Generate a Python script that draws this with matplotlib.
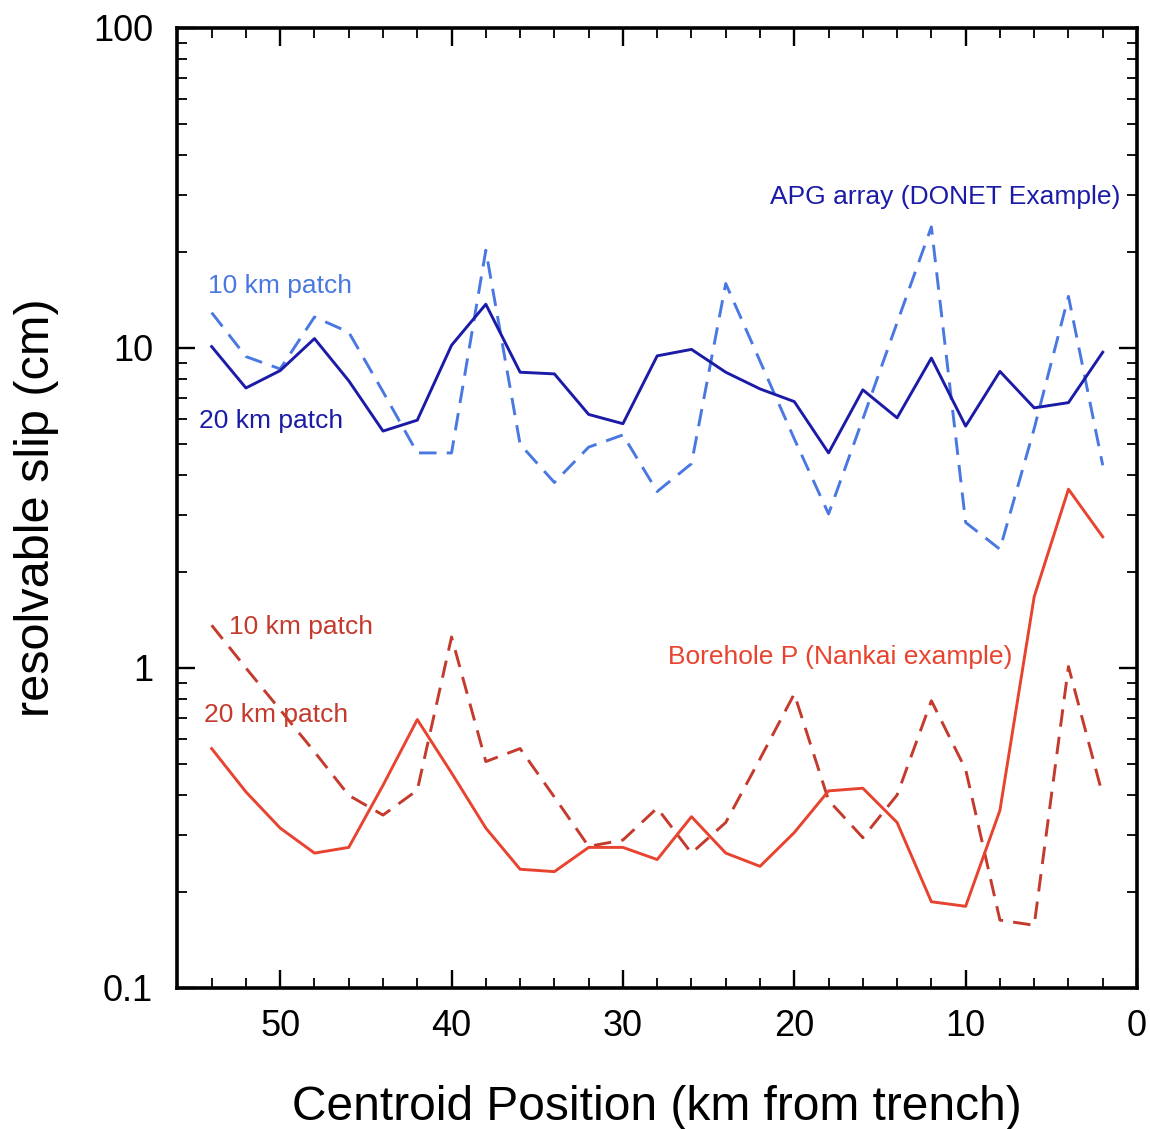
import numpy as np
import matplotlib
matplotlib.use("Agg")
import matplotlib.pyplot as plt
from matplotlib.ticker import LogLocator, FixedLocator, NullFormatter

plt.rcParams['font.family'] = ['Liberation Sans', 'DejaVu Sans']

# Centroid position (km from trench)
positions = [54, 52, 50, 48, 46, 44, 42, 40, 38, 36, 34, 32, 30, 28,
             26, 24, 22, 20, 18, 16, 14, 12, 10, 8, 6, 4, 2]

# APG array (DONET example)
apg_20km = [10.1, 7.5, 8.5, 10.7, 7.9, 5.5, 5.95, 10.2, 13.7, 8.4, 8.3, 6.2, 5.8, 9.45,
            9.9, 8.4, 7.45, 6.8, 4.7, 7.4, 6.05, 9.3, 5.7, 8.45, 6.5, 6.75, 9.7]
apg_10km = [12.9, 9.4, 8.6, 12.5, 11.2, 7.3, 4.7, 4.7, 20.2, 5.0, 3.8, 4.9, 5.35, 3.56,
            4.35, 15.9, 9.1, 5.2, 3.03, 6.0, 12.0, 23.9, 2.85, 2.35, 5.6, 14.5, 4.3]

# Borehole P (Nankai example)
bh_20km = [0.56, 0.41, 0.316, 0.264, 0.275, 0.43, 0.69, 0.47, 0.316, 0.235, 0.231, 0.275, 0.275, 0.252,
           0.343, 0.264, 0.240, 0.306, 0.413, 0.421, 0.329, 0.186, 0.180, 0.359, 1.67, 3.62, 2.57]
bh_10km = [1.36, 1.0, 0.74, 0.547, 0.40, 0.347, 0.415, 1.25, 0.51, 0.56, 0.395, 0.277, 0.29, 0.365,
           0.264, 0.329, 0.52, 0.83, 0.386, 0.295, 0.401, 0.79, 0.482, 0.163, 0.157, 1.01, 0.40]

x_ticks = [50, 40, 30, 20, 10, 0]
y_ticks = [0.1, 1, 10, 100]
y_ticklabels = ['0.1', '1', '10', '100']

c_apg20 = '#1b1ba8'
c_apg10 = '#4a78e2'
c_bh20 = '#e8432e'
c_bh10 = '#c43a2c'

fig = plt.figure(figsize=(11.5, 11.29), dpi=100)
ax = fig.add_axes([0.1535, 0.1249, 0.9887 - 0.1535, 0.9752 - 0.1249])

lw = 2.1
ax.plot(positions, apg_10km, color=c_apg10, lw=lw, dashes=(6, 3.5))
ax.plot(positions, apg_20km, color=c_apg20, lw=lw)
ax.plot(positions, bh_10km, color=c_bh10, lw=lw, dashes=(6, 3.5))
ax.plot(positions, bh_20km, color=c_bh20, lw=lw)

ax.set_yscale('log')
ax.set_ylim(0.1, 100)
ax.set_xlim(56.05, 0)

ax.xaxis.set_major_locator(FixedLocator(x_ticks))
ax.xaxis.set_minor_locator(FixedLocator(list(range(2, 56, 2))))
ax.yaxis.set_major_locator(FixedLocator(y_ticks))
ax.set_yticklabels(y_ticklabels)
ax.yaxis.set_minor_locator(LogLocator(base=10, subs=np.arange(2, 10)))
ax.yaxis.set_minor_formatter(NullFormatter())

ax.tick_params(which='both', direction='in', top=True, right=True, colors='black',
               labelsize=26)
ax.tick_params(which='major', length=13, width=1.7)
ax.tick_params(which='minor', length=7, width=1.3)
ax.tick_params(axis='x', which='major', pad=15)
ax.tick_params(axis='y', which='major', pad=17)

for s in ax.spines.values():
    s.set_linewidth(2.6)

ax.set_xlabel('Centroid Position (km from trench)', fontsize=34.5, labelpad=30)
ax.set_ylabel('resolvable slip (cm)', fontsize=35, labelpad=24)

fs = 19
ax.text(0.0328, 0.731, '10 km patch', transform=ax.transAxes, color=c_apg10, fontsize=fs, va='center', ha='left')
ax.text(0.0234, 0.5906, '20 km patch', transform=ax.transAxes, color=c_apg20, fontsize=fs, va='center', ha='left')
ax.text(0.9823, 0.824, 'APG array (DONET Example)', transform=ax.transAxes, color=c_apg20, fontsize=fs, va='center', ha='right')
ax.text(0.0547, 0.376, '10 km patch', transform=ax.transAxes, color=c_bh10, fontsize=fs, va='center', ha='left')
ax.text(0.0286, 0.284, '20 km patch', transform=ax.transAxes, color=c_bh10, fontsize=fs, va='center', ha='left')
ax.text(0.5117, 0.3448, 'Borehole P (Nankai example)', transform=ax.transAxes, color=c_bh20, fontsize=fs, va='center', ha='left')

fig.savefig('out.png', dpi=100)
